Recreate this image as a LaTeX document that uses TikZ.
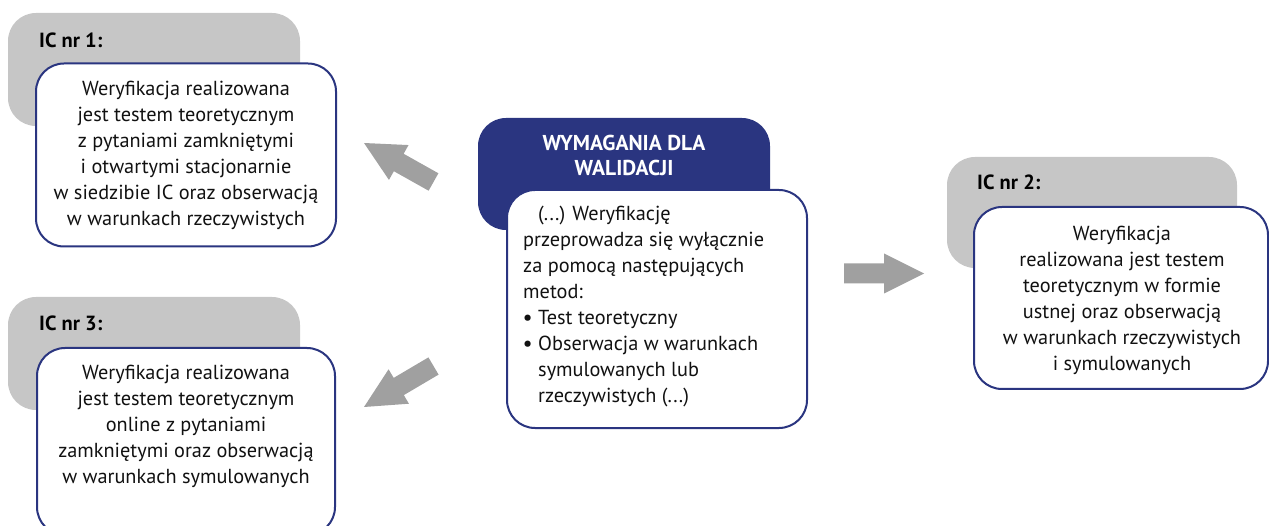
\documentclass[tikz,border=0pt]{standalone}
\usepackage{fontspec}
\setmainfont{PT Sans}
\usetikzlibrary{calc}
\definecolor{navy}{HTML}{2A3580}
\definecolor{boxgray}{HTML}{C6C6C6}
\definecolor{arrgray}{HTML}{A0A0A0}
\definecolor{txt}{HTML}{111111}
\tikzset{
  graybox/.style={fill=boxgray, rounded corners=28pt, inner sep=0pt},
  navybox/.style={fill=navy, rounded corners=28pt, inner sep=0pt},
  whitebox/.style={fill=white, draw=navy, line width=2pt, rounded corners=28pt, inner sep=0pt},
  bodytext/.style={text=txt, font=\fontsize{20.3}{26}\selectfont, inner sep=0pt},
  labeltext/.style={text=black, font=\fontsize{20.5}{24}\selectfont\bfseries, inner sep=0pt, anchor=west},
  titletext/.style={text=white, font=\fontsize{21.5}{25}\selectfont\bfseries, inner sep=0pt, align=center},
  arrowfill/.style={fill=arrgray}
}
\newcommand\blockarrow[3]{% #1 tail, #2 tip, #3 mid
  \path (#1) -- (#2) coordinate[pos=0.5] (#3);
  \fill[arrowfill] ($(#1)!10pt!90:(#2)$) -- ($(#3)!10pt!90:(#2)$) -- ($(#3)!20pt!90:(#2)$) -- (#2)
    -- ($(#3)!20pt!-90:(#2)$) -- ($(#3)!10pt!-90:(#2)$) -- ($(#1)!10pt!-90:(#2)$) -- cycle;
}
\begin{document}
\begin{tikzpicture}[x=1pt,y=-1pt]
\useasboundingbox (0,0) rectangle (1269,526);
% IC nr 1
\node[graybox, minimum width=292pt, minimum height=113pt] (g1) at (154,69.5) {};
\node[labeltext] (l1) at (39,40) {IC nr 1:};
\node[whitebox, minimum width=300pt, minimum height=183pt] (w1) at (186,155) {};
\node[bodytext, align=center] (t1) at (186,155) {Weryfikacja realizowana\\jest testem teoretycznym\\z pytaniami zamkniętymi\\i otwartymi stacjonarnie\\w siedzibie IC oraz obserwacją\\w warunkach rzeczywistych};
% IC nr 3
\node[graybox, minimum width=292pt, minimum height=113pt] (g3) at (154,353.5) {};
\node[labeltext] (l3) at (39,323) {IC nr 3:};
\node[whitebox, minimum width=298pt, minimum height=187pt] (w3) at (186,441.5) {};
\node[bodytext, align=center] (t3) at (186,426) {Weryfikacja realizowana\\jest testem teoretycznym\\online z pytaniami\\zamkniętymi oraz obserwacją\\w warunkach symulowanych};
% IC nr 2
\node[graybox, minimum width=290pt, minimum height=111pt] (g2) at (1092,212.5) {};
\node[labeltext] (l2) at (977,182) {IC nr 2:};
\node[whitebox, minimum width=294pt, minimum height=182pt] (w2) at (1121,298) {};
\node[bodytext, align=center] (t2) at (1122,300.5) {Weryfikacja\\realizowana jest testem\\teoretycznym w formie\\ustnej oraz obserwacją\\w warunkach rzeczywistych\\i symulowanych};
% centre
\node[navybox, minimum width=292pt, minimum height=112pt] (nb) at (624,174) {};
\node[titletext] (nt) at (624,155.5) {WYMAGANIA DLA\\WALIDACJI};
\node[whitebox, minimum width=300pt, minimum height=238pt] (wc) at (657,309) {};
\node[bodytext, align=left, anchor=west] (tc) at (523,306.5) {\hspace*{15pt}(...) Weryfikację\\przeprowadza się wyłącznie\\za pomocą następujących\\metod:\\\makebox[15pt][l]{\textbf{•}}Test teoretyczny\\\makebox[15pt][l]{\textbf{•}}Obserwacja w warunkach\\\hspace*{15pt}symulowanych lub\\\hspace*{15pt}rzeczywistych (...)};
% arrows
\coordinate (a1t) at (433.5,182);
\coordinate (a1h) at (364,143);
\coordinate (a3t) at (433.5,366);
\coordinate (a3h) at (364,407);
\coordinate (a2t) at (844,273.5);
\coordinate (a2h) at (924,273.5);
\blockarrow{a1t}{a1h}{a1m}
\blockarrow{a3t}{a3h}{a3m}
\blockarrow{a2t}{a2h}{a2m}
\end{tikzpicture}
\end{document}
